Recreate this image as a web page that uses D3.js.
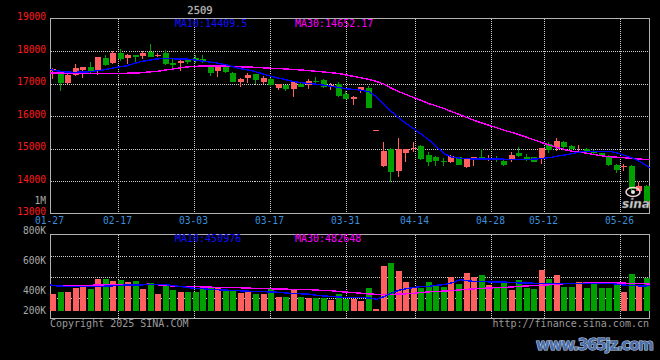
<!DOCTYPE html>
<html><head><meta charset="utf-8">
<script src="https://cdn.jsdelivr.net/npm/d3@7"></script>
<style>
html,body{margin:0;padding:0;background:#000;}
svg{display:block;}
text{font-family:"DejaVu Sans Mono",monospace;}
</style></head><body>
<svg id="c" width="660" height="360"></svg>
<script>
const dates = ["01-27",
"02-05","02-06","02-07","02-10","02-11","02-12","02-13","02-14","02-17","02-18","02-19","02-20","02-21","02-24","02-25","02-26","02-27","02-28",
"03-03","03-04","03-05","03-06","03-07","03-10","03-11","03-12","03-13","03-14","03-17","03-18","03-19","03-20","03-21","03-24","03-25","03-26","03-27","03-28","03-31",
"04-01","04-02","04-03","04-07","04-08","04-09","04-10","04-11","04-14","04-15","04-16","04-17","04-18","04-21","04-22","04-23","04-24","04-25","04-28","04-29","04-30",
"05-06","05-07","05-08","05-09","05-12","05-13","05-14","05-15","05-16","05-19","05-20","05-21","05-22","05-23","05-26","05-27","05-28","05-29","05-30"];

const openP  = [17370,17300,17020,17260,17420,17508,17430,17784,17640,17940,17790,17870,17840,17980,17840,17950,17630,17645,17745,17790,
17740,17570,17390,17560,17335,17060,17180,17290,17060,17150,16875,16950,16845,17000,16950,17070,17110,16880,16980,16690,
16520,16775,16860,15570,14450,14990,14300,14865,15005,15090,14810,14730,14625,14575,14727,14420,14650,14750,14650,14680,
14605,14650,14850,14750,14725,14680,15135,15035,15185,15085,14880,14985,14930,14850,14780,14505,14440,14470,13705,13860];
const highP  = [17490,17364,17280,17590,17510,17662,17815,17890,18010,18075,17900,17880,18000,18220,17930,18030,17740,17745,17760,17867,
17877,17580,17560,17570,17345,17160,17334,17300,17230,17180,17000,16960,17060,17010,17130,17200,17150,17030,17060,16770,
16610,16900,16930,15570,15210,15010,15310,14990,15187,15120,14880,14780,14700,14790,14730,14700,14740,14985,14800,14780,
14650,14880,15055,14830,14740,15020,15210,15310,15240,15100,15116,15025,14960,14870,14790,14510,14524,14480,13960,13870];
const lowP   = [17150,16772,17000,17230,17180,17285,17250,17530,17610,17680,17610,17640,17745,17820,17810,17560,17440,17386,17600,17640,
17620,17232,17200,17320,17040,16904,17030,17000,16980,16930,16800,16770,16600,16890,16840,17000,16870,16800,16570,16510,
16340,16720,16250,15570,14420,13980,14110,14600,14880,14660,14470,14470,14470,14560,14490,14390,14450,14660,14625,14575,
14470,14575,14725,14625,14590,14525,14860,14930,14985,14940,14870,14830,14840,14780,14470,14236,14320,13700,13700,13350];
const closeP = [17456,17027,17260,17480,17500,17364,17815,17580,17950,17765,17880,17800,17950,17830,17880,17590,17570,17690,17665,17700,
17650,17335,17540,17365,17060,17150,17250,17110,17180,16960,16980,16830,17048,16905,17080,17050,16880,16950,16620,16520,
16600,16895,16260,15570,14930,14290,14985,14985,15020,14690,14600,14605,14580,14780,14505,14695,14725,14680,14710,14650,
14505,14810,14780,14680,14600,15015,14965,15240,15055,14985,14932,14880,14865,14800,14505,14350,14470,13760,13860,13370];

// volume in thousands of lots
const volume = [300,337,337,414,457,385,571,571,535,553,517,535,391,493,300,475,373,337,337,337,
414,414,414,373,373,324,337,300,300,409,247,247,378,247,235,235,235,200,300,216,
216,180,409,36,805,859,715,523,414,414,517,463,427,613,481,685,607,643,463,414,
505,373,553,414,397,733,571,643,427,427,517,409,481,409,409,463,337,661,463,589];

const ma10 = [17432,17386,17355,17346,17349,17355,17386,17416,17462,17508,17539,17610,17677,17714,17754,17769,17763,17754,17754,17723,
17692,17662,17631,17585,17524,17462,17416,17370,17294,17232,17171,17119,17064,17027,17002,16978,16950,16917,16880,16834,
16818,16794,16742,16588,16343,16128,15929,15745,15592,15423,15239,15024,14825,14733,14702,14687,14672,14672,14672,14672,
14670,14668,14665,14665,14678,14700,14730,14776,14810,14856,14902,14905,14905,14902,14900,14840,14764,14678,14549,14409.5];
const ma30 = [17325,17322,17320,17318,17318,17316,17315,17315,17315,17315,17316,17320,17330,17355,17370,17407,17438,17478,17508,17524,
17539,17541,17541,17539,17530,17515,17508,17499,17484,17469,17462,17447,17432,17416,17401,17377,17355,17331,17309,17263,
17217,17171,17125,17064,16972,16849,16742,16650,16558,16466,16374,16297,16220,16122,16036,15944,15852,15776,15699,15622,
15546,15484,15408,15325,15245,15162,15086,15015,14948,14908,14877,14840,14800,14764,14742,14727,14708,14690,14668,14652.17];

const volMa10 = [463,445,440,438,438,439,440,441,446,455,462,465,466,468,473,474,455,440,420,405,
398,385,378,372,366,358,352,348,343,338,333,320,310,305,298,280,266,258,247,238,
235,233,232,205,255,320,370,400,421,436,440,460,470,505,560,540,525,522,520,520,
515,505,500,497,494,492,492,490,488,487,490,492,494,493,490,470,458,452,445,451];
const volMa30 = [457,457,457,457,458,458,460,460,461,462,465,470,475,478,470,455,447,440,435,432,
430,425,420,416,415,413,408,402,398,395,392,388,385,383,380,372,365,360,345,335,
325,315,300,296,292,295,300,305,315,330,340,348,355,365,375,385,395,403,410,418,
421,430,440,448,455,460,470,480,488,493,495,497,498,500,500,498,495,490,486,483];

const priceTicks = [19000,18000,17000,16000,15000,14000,13000];
const volTicks = [800,600,400,200];
const dateLabels = ["01-27","02-17","03-03","03-17","03-31","04-14","04-28","05-12","05-26"];
const titleText = "2509";
const ma10Text = "MA10:14409.5", ma30Text = "MA30:14652.17";
const volMa10Text = "MA10:450976", volMa30Text = "MA30:482648";

const svg = d3.select("#c");
svg.append("rect").attr("width",660).attr("height",360).attr("fill","#000");

const UP = "#ff5f5f", DOWN = "#00a000";
const BL = 50.5, BR = 649.5, MT = 18.5, MB = 213.5, VT = 234.5, VB = 318.5;

const xBand = d3.scaleBand().domain(dates).range([50, 650]).paddingInner(0.2);
const xGrid = d3.scaleLinear().domain([0, dates.length - 1]).range([50, 650]);
const yPrice = d3.scaleLinear().domain([13000, 19000]).range([MB, MT]);
const yVol = d3.scaleLinear().domain([0, 800]).range([310.7, 266.3]);
const yVolLabel = d3.scaleLinear().domain([800, 600, 400, 200]).range([231, 261, 290.7, 310.3]);

const gx = d => Math.round(xGrid(dates.indexOf(d))) + 0.5;

// grids
const grid = svg.append("g").attr("stroke", "#d0d0d0").attr("stroke-dasharray", "1,1")
  .attr("shape-rendering", "crispEdges").attr("fill", "none");
priceTicks.filter(t => t > 13000 && t < 19000).forEach(t => {
  const y = Math.round(yPrice(t)) + 0.5;
  grid.append("line").attr("x1", BL).attr("x2", BR).attr("y1", y).attr("y2", y);
});
const volGridScale = d3.scaleLinear().domain([0, 4]).range([VT, VB]);
[1, 2, 3].forEach(k => {
  const y = Math.round(volGridScale(k)) + 0.5;
  grid.append("line").attr("x1", BL).attr("x2", BR).attr("y1", y).attr("y2", y);
});
dateLabels.slice(1).forEach(d => {
  const x = gx(d);
  grid.append("line").attr("x1", x).attr("x2", x).attr("y1", MT).attr("y2", MB);
  grid.append("line").attr("x1", x).attr("x2", x).attr("y1", VT).attr("y2", VB);
});

// borders
const border = svg.append("g").attr("stroke", "#b0b0b0").attr("fill", "none").attr("shape-rendering", "crispEdges");
border.append("rect").attr("x", BL).attr("y", MT).attr("width", BR - BL).attr("height", MB - MT);
border.append("rect").attr("x", BL).attr("y", VT).attr("width", BR - BL).attr("height", VB - VT);

// candles
const cg = svg.append("g").attr("shape-rendering", "crispEdges");
dates.forEach((d, i) => {
  const o = openP[i], c = closeP[i], h = highP[i], l = lowP[i];
  const col = c >= o ? UP : DOWN;
  const x = Math.round(xBand(d));
  const w = Math.round(xBand.bandwidth());
  const yh = Math.round(yPrice(h)), yl = Math.round(yPrice(l));
  cg.append("rect").attr("x", x + 2).attr("y", yh).attr("width", 1).attr("height", Math.max(1, yl - yh)).attr("fill", col);
  const yt = Math.round(yPrice(Math.max(o, c))), yb = Math.round(yPrice(Math.min(o, c)));
  cg.append("rect").attr("x", x).attr("y", yt).attr("width", w).attr("height", Math.max(1, yb - yt)).attr("fill", col);
  // volume
  const vt = Math.round(yVol(volume[i])), v0 = Math.round(yVol(0));
  cg.append("rect").attr("x", x).attr("y", vt).attr("width", w).attr("height", Math.max(1, v0 - vt)).attr("fill", col);
});

// clips
const defs = svg.append("defs");
defs.append("clipPath").attr("id", "cm").append("rect").attr("x", 50).attr("y", 18).attr("width", 600).attr("height", 196);
defs.append("clipPath").attr("id", "cv").append("rect").attr("x", 50).attr("y", 234).attr("width", 600).attr("height", 85);

const lineP = d3.line().x((d, i) => xGrid(i)).y(d => yPrice(d));
const lineV = d3.line().x((d, i) => xGrid(i)).y(d => yVol(d));
const ml = svg.append("g").attr("fill", "none").attr("stroke-width", 1.4).attr("shape-rendering", "crispEdges");
ml.append("path").attr("clip-path", "url(#cm)").attr("d", lineP(ma30)).attr("stroke", "#ff00ff");
ml.append("path").attr("clip-path", "url(#cm)").attr("d", lineP(ma10)).attr("stroke", "#0000ff");
ml.append("path").attr("clip-path", "url(#cv)").attr("d", lineV(volMa30)).attr("stroke", "#ff00ff");
ml.append("path").attr("clip-path", "url(#cv)").attr("d", lineV(volMa10)).attr("stroke", "#0000ff");

// sina logo watermark
const logo = svg.append("g");
logo.append("ellipse").attr("cx", 633).attr("cy", 192).attr("rx", 7).attr("ry", 4.5)
  .attr("fill", "none").attr("stroke", "#f2d6d6").attr("stroke-width", 1.5);
logo.append("circle").attr("cx", 633).attr("cy", 192).attr("r", 2).attr("fill", "#e8e8e8");
logo.append("text").attr("x", 636).attr("y", 208).attr("text-anchor", "middle")
  .style("font-family", "'DejaVu Sans',sans-serif").style("font-weight", "bold").style("font-style", "italic")
  .style("font-size", "12px").attr("fill", "#d0d0d0").attr("stroke", "#666").attr("stroke-width", 0.4)
  .text("sina");

// texts
const T = (x, y, s, col, size, anchor) => svg.append("text").attr("x", x).attr("y", y)
  .attr("dy", "0.35em").attr("fill", col).attr("text-anchor", anchor || "start")
  .style("font-size", size + "px").text(s);

T(200, 10, titleText, "#e0e0e0", 10.5, "middle").attr("stroke", "#777").attr("stroke-width", 0.3);
priceTicks.forEach(t => T(46, yPrice(t) - 1.5, String(t), "#ff1a1a", 9.6, "end"));
T(46, 200.5, "1M", "#a8a8a8", 9.6, "end");
dateLabels.forEach(d => T(gx(d) - 1, 221, d, "#3d8fdc", 9.6, "middle"));
volTicks.forEach(v => T(46, yVolLabel(v), v + "K", "#a8a8a8", 9.6, "end"));
T(175, 23.7, ma10Text, "#1010ff", 10);
T(295, 23.7, ma30Text, "#ff00ff", 10);
T(175, 238.5, volMa10Text, "#1010ff", 10);
T(295, 238.5, volMa30Text, "#ff00ff", 10);
T(50, 323, "Copyright 2025 SINA.COM", "#9a9a9a", 10);
T(649, 323.7, "http://finance.sina.com.cn", "#9a9a9a", 10, "end");

svg.append("text").attr("x", 595).attr("y", 350).attr("text-anchor", "middle")
  .style("font-family", "'DejaVu Sans',sans-serif").style("font-weight", "bold").style("font-size", "15px")
  .attr("textLength", 118).attr("fill", "#4a6ea8").attr("stroke", "#c8d6ea").attr("stroke-width", 1.1)
  .attr("paint-order", "stroke").text("www.365jz.com");
</script>
</body></html>
